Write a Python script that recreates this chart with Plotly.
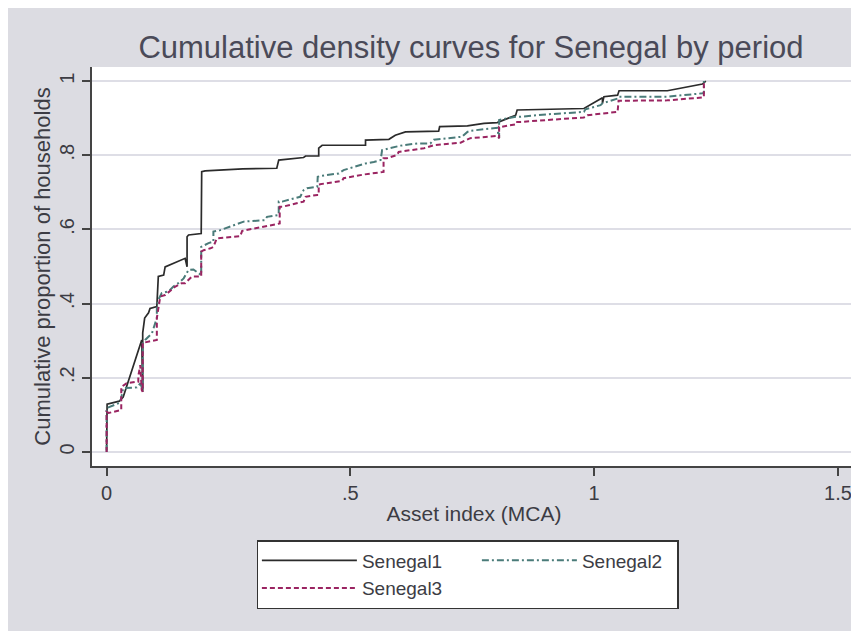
import plotly.graph_objects as go

# Senegal1 (black, solid)
s1_x = [0.000, 0.001, 0.026, 0.034, 0.072, 0.074, 0.074, 0.078, 0.086, 0.089, 0.103, 0.105, 0.106,
        0.117, 0.120, 0.161, 0.165, 0.165, 0.168, 0.194, 0.195, 0.202, 0.279, 0.349, 0.353, 0.404,
        0.408, 0.435, 0.435, 0.442, 0.531, 0.531, 0.579, 0.592, 0.613, 0.681, 0.683, 0.740, 0.774,
        0.801, 0.839, 0.842, 0.911, 0.979, 1.017, 1.017, 1.020, 1.048, 1.051, 1.150, 1.222, 1.229]
s1_y = [0.005, 0.129, 0.137, 0.148, 0.302, 0.162, 0.321, 0.361, 0.375, 0.387, 0.392, 0.437, 0.473,
        0.477, 0.499, 0.522, 0.499, 0.580, 0.585, 0.589, 0.756, 0.758, 0.763, 0.765, 0.787, 0.794,
        0.798, 0.798, 0.819, 0.827, 0.827, 0.841, 0.843, 0.854, 0.863, 0.865, 0.877, 0.879, 0.886,
        0.888, 0.908, 0.922, 0.924, 0.926, 0.955, 0.940, 0.958, 0.962, 0.974, 0.974, 0.992, 1.000]

# Senegal2 (teal, dash-dot)
s2_x = [0.000, 0.000, 0.028, 0.031, 0.034, 0.062, 0.069, 0.074, 0.074, 0.079, 0.093, 0.103, 0.103,
        0.106, 0.113, 0.124, 0.130, 0.137, 0.147, 0.158, 0.165, 0.168, 0.178, 0.194, 0.194, 0.209,
        0.219, 0.219, 0.233, 0.281, 0.325, 0.329, 0.353, 0.353, 0.360, 0.397, 0.404, 0.411, 0.432,
        0.433, 0.438, 0.476, 0.486, 0.531, 0.548, 0.562, 0.565, 0.572, 0.603, 0.637, 0.664, 0.671,
        0.729, 0.740, 0.746, 0.801, 0.805, 0.805, 0.811, 0.839, 0.849, 0.911, 0.979, 0.982, 1.013,
        1.017, 1.048, 1.051, 1.150, 1.222, 1.225, 1.225]
s2_y = [0.000, 0.118, 0.133, 0.151, 0.172, 0.174, 0.185, 0.167, 0.293, 0.302, 0.320, 0.361, 0.392,
        0.410, 0.428, 0.432, 0.437, 0.446, 0.455, 0.468, 0.482, 0.491, 0.492, 0.477, 0.553, 0.563,
        0.567, 0.594, 0.598, 0.621, 0.625, 0.634, 0.639, 0.675, 0.675, 0.688, 0.706, 0.711, 0.715,
        0.742, 0.744, 0.751, 0.760, 0.778, 0.782, 0.787, 0.814, 0.816, 0.826, 0.832, 0.832, 0.842,
        0.850, 0.863, 0.866, 0.874, 0.846, 0.895, 0.897, 0.904, 0.904, 0.911, 0.917, 0.924, 0.935,
        0.940, 0.953, 0.958, 0.958, 0.967, 0.968, 1.000]

# Senegal3 (maroon, dashed)
s3_x = [0.000, 0.000, 0.004, 0.024, 0.030, 0.030, 0.041, 0.059, 0.065, 0.065, 0.069, 0.072, 0.074,
        0.074, 0.086, 0.103, 0.103, 0.110, 0.120, 0.134, 0.141, 0.154, 0.161, 0.175, 0.189, 0.194,
        0.194, 0.199, 0.213, 0.219, 0.226, 0.274, 0.278, 0.315, 0.349, 0.355, 0.355, 0.360, 0.404,
        0.408, 0.432, 0.435, 0.435, 0.438, 0.483, 0.486, 0.527, 0.565, 0.568, 0.568, 0.575, 0.596,
        0.599, 0.651, 0.671, 0.726, 0.740, 0.746, 0.801, 0.805, 0.805, 0.811, 0.841, 0.842, 0.849,
        0.911, 0.979, 0.986, 1.017, 1.048, 1.050, 1.054, 1.150, 1.222, 1.225, 1.225]
s3_y = [0.000, 0.108, 0.105, 0.111, 0.113, 0.175, 0.185, 0.189, 0.189, 0.205, 0.234, 0.167, 0.162,
        0.294, 0.297, 0.302, 0.361, 0.419, 0.423, 0.437, 0.446, 0.455, 0.455, 0.473, 0.474, 0.473,
        0.540, 0.544, 0.549, 0.553, 0.576, 0.582, 0.596, 0.606, 0.616, 0.616, 0.661, 0.661, 0.675,
        0.688, 0.693, 0.693, 0.720, 0.722, 0.731, 0.738, 0.748, 0.753, 0.755, 0.792, 0.792, 0.801,
        0.809, 0.819, 0.827, 0.834, 0.843, 0.846, 0.852, 0.846, 0.877, 0.877, 0.884, 0.890, 0.890,
        0.895, 0.902, 0.908, 0.913, 0.917, 0.947, 0.947, 0.948, 0.956, 0.957, 1.000]

x_ticks = [0, 0.5, 1, 1.5]
x_tick_labels = ["0", ".5", "1", "1.5"]
y_ticks = [0, 0.2, 0.4, 0.6, 0.8, 1]
y_tick_labels = ["0", ".2", ".4", ".6", ".8", "1"]

FONT = "Liberation Sans, Arial, Helvetica, sans-serif"
TXT = "#3c3c44"
BG = "#dcdce2"

fig = go.Figure()
fig.add_trace(go.Scatter(x=s1_x, y=s1_y, mode="lines", name="Senegal1", legendgroup="a",
                         legendwidth=110,
                         line=dict(color="#2b2b2b", width=1.7)))
fig.add_trace(go.Scatter(x=s2_x, y=s2_y, mode="lines", name="Senegal2", legendgroup="b",
                         legendwidth=90,
                         line=dict(color="#4a7b79", width=2.0, dash="7px,3px,2px,3px")))
fig.add_trace(go.Scatter(x=s3_x, y=s3_y, mode="lines", name="Senegal3", legendgroup="a",
                         legendwidth=110,
                         line=dict(color="#9a2461", width=2.0, dash="5px,3px")))

fig.update_layout(
    width=859, height=631,
    margin=dict(l=84, r=11, t=59, b=173),
    paper_bgcolor=BG,
    plot_bgcolor="white",
    font=dict(family=FONT, color=TXT, size=20),
    title=dict(text="Cumulative density curves for Senegal by period",
               x=0.496, xref="paper", xanchor="center",
               y=1 - 39 / 631, yref="container", yanchor="middle",
               font=dict(size=31, color="#4a4a58", family=FONT)),
    showlegend=True,
    legend=dict(orientation="h", traceorder="grouped", x=0.492, xanchor="center",
                y=-0.1855, yanchor="top", bgcolor="white", bordercolor="#333333",
                borderwidth=1.5, font=dict(size=19, color=TXT, family=FONT),
                itemwidth=95, tracegroupgap=0),
)

fig.update_xaxes(range=[-0.030, 1.537], tickvals=x_ticks, ticktext=x_tick_labels,
                 showgrid=False, zeroline=False, showline=True, linecolor="#444444", linewidth=1.5,
                 ticks="outside", ticklen=8, tickwidth=1.5, tickcolor="#444444",
                 tickfont=dict(size=20, color=TXT),
                 title=dict(text="Asset index (MCA)", font=dict(size=21, color=TXT), standoff=4))
fig.update_yaxes(range=[-0.038, 1.038], tickvals=y_ticks, ticktext=y_tick_labels,
                 showgrid=True, gridcolor="#dedee6", gridwidth=1.5, zeroline=False,
                 showline=True, linecolor="#444444", linewidth=1.5,
                 ticks="outside", ticklen=8, tickwidth=1.5, tickcolor="#444444",
                 tickangle=-90, tickfont=dict(size=20, color=TXT),
                 title=dict(text="Cumulative proportion of households", font=dict(size=22, color=TXT),
                            standoff=0))

fig.write_html("out.html")
